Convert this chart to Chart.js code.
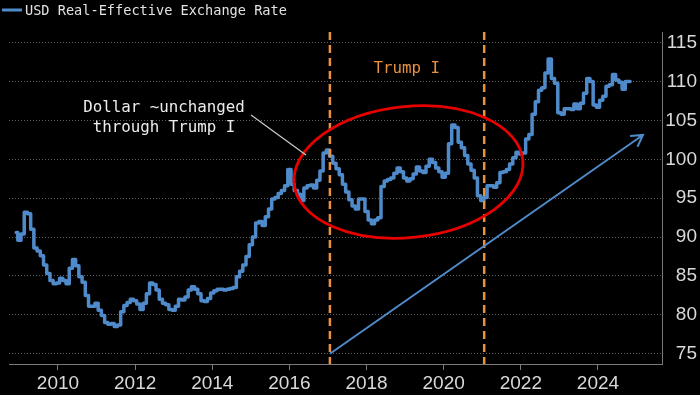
<!DOCTYPE html>
<html>
<head>
<meta charset="utf-8">
<script src="https://cdn.jsdelivr.net/npm/chart.js@4.4.1/dist/chart.umd.min.js"></script>
<style>
  html, body { margin: 0; padding: 0; background: #000; }
  #wrap { width: 700px; height: 395px; position: relative; }
  canvas { display: block; }
</style>
</head>
<body>
<div id="wrap"><canvas id="c" width="700" height="395"></canvas></div>
<script>
// ---------------- DATA ----------------
const seriesName = 'USD Real-Effective Exchange Rate';
const startYear = 2008;
const startMonth = 11; // first observation: Nov 2008 (month-end), monthly afterwards
const reer = [
  90.6, 89.6, 90.4, 93.2, 93.0, 91.0, 88.6, 88.2, 87.6, 86.4,
  85.3, 84.4, 84.0, 84.1, 84.7, 84.4, 84.0, 86.0, 87.1, 86.3,
  84.9, 84.2, 82.5, 81.1, 81.1, 81.5, 80.6, 79.9, 79.0, 78.8,
  78.9, 78.5, 78.7, 80.4, 81.2, 81.6, 82.0, 81.8, 81.4, 80.7,
  81.5, 82.7, 84.1, 83.9, 83.2, 82.0, 81.5, 81.3, 80.7, 80.6,
  81.1, 82.0, 81.9, 82.3, 83.2, 83.6, 83.3, 82.7, 81.8, 81.7,
  82.1, 82.8, 83.1, 83.3, 83.3, 83.2, 83.3, 83.4, 83.5, 84.9,
  85.6, 86.4, 87.5, 89.0, 90.0, 91.8, 92.0, 91.5, 92.6, 93.6,
  94.9, 95.1, 95.6, 96.0, 96.6, 98.7, 96.8, 96.0, 95.5, 94.7,
  96.3, 96.6, 96.7, 96.3, 97.3, 98.5, 100.8, 101.2, 100.4, 99.5,
  98.8, 98.0, 96.8, 95.8, 94.8, 94.0, 93.6, 94.9, 94.9, 93.3,
  92.2, 91.7, 92.2, 92.5, 96.5, 97.2, 97.4, 97.6, 98.2, 98.9,
  98.4, 97.6, 97.2, 97.5, 98.1, 99.0, 98.5, 98.3, 99.1, 100.0,
  99.6, 98.9, 98.4, 97.7, 98.2, 102.0, 104.4, 104.1, 102.2, 101.5,
  100.5, 99.4, 98.6, 97.6, 95.3, 94.7, 95.1, 96.6, 96.6, 96.4,
  97.0, 98.3, 98.4, 98.7, 99.4, 100.2, 100.9, 100.7, 100.8, 102.6,
  103.2, 105.8, 107.4, 108.9, 109.2, 111.1, 112.9, 110.4, 109.8, 106.0,
  105.8, 106.5, 106.5, 106.4, 107.1, 106.5, 107.2, 108.5, 110.4, 110.0,
  107.0, 106.7, 107.6, 108.1, 109.4, 109.6, 110.9, 110.2, 109.9, 109.0,
  110.0, 110.0
];
const xTickYears = [2010, 2012, 2014, 2016, 2018, 2020, 2022, 2024];
const yTickValues = [75, 80, 85, 90, 95, 100, 105, 110, 115];
const trumpTerm = [2017.05, 2021.05];
const annoLines = ['Dollar ~unchanged', 'through Trump I'];
const trumpLabel = 'Trump I';

// ---------------- STYLE / LAYOUT ----------------
const xMin = 2008.73, xMax = 2025.66;
const yMin = 73.675, yMax = 116.376;
const lineColor = '#4F8BCB';
const orange = '#E8913F';
const narrow = "'Liberation Sans Narrow', 'Liberation Sans', Arial, sans-serif";
const mono = "'DejaVu Sans Mono', 'Liberation Mono', monospace";

// annotation anchors in data coordinates
const anno = {
  textX: 2012.748, textY: [106.09, 103.51],
  connector: [[2015.004, 105.70], [2016.43, 100.56]],
  trumpX: 2019.04, trumpY: 111.10,
  ellipse: { cx: 2019.087, cy: 98.37, rx: 2.98, ry: 8.42, rot: -6 },
  arrow: [[2017.05, 75.0], [2025.167, 103.13]]
};

const bgPlugin = {
  id: 'bg',
  beforeDraw(chart) {
    const { ctx, width, height } = chart;
    ctx.save();
    ctx.fillStyle = '#000';
    ctx.fillRect(0, 0, width, height);
    ctx.restore();
  }
};

const overlay = {
  id: 'overlay',
  afterDatasetsDraw(chart) {
    const { ctx, chartArea: ca, scales: { x, y } } = chart;
    const px = v => x.getPixelForValue(v);
    const py = v => y.getPixelForValue(v);
    ctx.save();

    // Trump term dashed lines
    ctx.strokeStyle = orange;
    ctx.lineWidth = 2.5;
    ctx.setLineDash([8, 5]);
    trumpTerm.forEach(t => {
      ctx.beginPath();
      ctx.moveTo(px(t), ca.top);
      ctx.lineTo(px(t), ca.bottom);
      ctx.stroke();
    });
    ctx.setLineDash([]);

    // red ellipse
    const e = anno.ellipse;
    const ecx = px(e.cx), ecy = py(e.cy);
    const erx = Math.abs(px(e.cx + e.rx) - ecx);
    const ery = Math.abs(py(e.cy + e.ry) - ecy);
    ctx.strokeStyle = '#E60000';
    ctx.lineWidth = 2.8;
    ctx.beginPath();
    ctx.ellipse(ecx, ecy, erx, ery, e.rot * Math.PI / 180, 0, Math.PI * 2);
    ctx.stroke();

    // blue arrow
    const [a0, a1] = anno.arrow;
    const x0 = px(a0[0]), y0 = py(a0[1]), x1 = px(a1[0]), y1 = py(a1[1]);
    ctx.strokeStyle = lineColor;
    ctx.lineWidth = 2;
    ctx.beginPath();
    ctx.moveTo(x0, y0);
    ctx.lineTo(x1, y1);
    const ang = Math.atan2(y0 - y1, x0 - x1);
    const hl = 13, spread = Math.PI / 6;
    ctx.moveTo(x1 + hl * Math.cos(ang + spread), y1 + hl * Math.sin(ang + spread));
    ctx.lineTo(x1, y1);
    ctx.lineTo(x1 + hl * Math.cos(ang - spread), y1 + hl * Math.sin(ang - spread));
    ctx.stroke();

    // connector line
    const [c0, c1] = anno.connector;
    ctx.strokeStyle = '#c8c8c8';
    ctx.lineWidth = 1.3;
    ctx.beginPath();
    ctx.moveTo(px(c0[0]), py(c0[1]));
    ctx.lineTo(px(c1[0]), py(c1[1]));
    ctx.stroke();

    // texts
    ctx.font = '15.8px ' + mono;
    ctx.textAlign = 'center';
    ctx.textBaseline = 'alphabetic';
    ctx.fillStyle = '#ececec';
    annoLines.forEach((t, i) => ctx.fillText(t, px(anno.textX), py(anno.textY[i])));
    ctx.fillStyle = orange;
    ctx.fillText(trumpLabel, px(anno.trumpX), py(anno.trumpY));

    ctx.restore();
  }
};

const legendPlugin = {
  id: 'legendLine',
  afterDraw(chart) {
    const { ctx } = chart;
    ctx.save();
    ctx.strokeStyle = lineColor;
    ctx.lineWidth = 3;
    ctx.beginPath();
    ctx.moveTo(2, 10);
    ctx.lineTo(22, 10);
    ctx.stroke();
    ctx.font = '13.6px ' + mono;
    ctx.fillStyle = '#e2e2e2';
    ctx.textAlign = 'left';
    ctx.textBaseline = 'alphabetic';
    ctx.fillText(chart.data.datasets[0].label, 25, 15);
    ctx.restore();
  }
};

new Chart(document.getElementById('c'), {
  type: 'line',
  data: {
    datasets: [{
      label: seriesName,
      data: reer.map((v, i) => ({ x: startYear + (startMonth + i) / 12, y: v })),
      borderColor: lineColor,
      borderWidth: 3.5,
      borderJoinStyle: 'round',
      borderCapStyle: 'round',
      pointRadius: 0,
      stepped: 'middle',
      fill: false
    }]
  },
  options: {
    responsive: false,
    animation: false,
    devicePixelRatio: 1,
    layout: { padding: { left: 9, right: 3, top: 32, bottom: 0 } },
    plugins: { legend: { display: false }, tooltip: { enabled: false } },
    scales: {
      x: {
        type: 'linear', position: 'bottom', min: xMin, max: xMax,
        afterBuildTicks: s => { s.ticks = xTickYears.map(v => ({ value: v })); },
        afterFit: s => { s.height = 31; },
        grid: { display: true, drawOnChartArea: false, drawTicks: true, tickLength: 6, color: '#7a7a7a', lineWidth: 1 },
        border: { display: true, color: '#7a7a7a', width: 1 },
        ticks: { color: '#d9d9d9', font: { family: narrow, size: 19 }, padding: 2, maxRotation: 0, autoSkip: false, callback: v => String(v) }
      },
      y: {
        type: 'linear', position: 'right', min: yMin, max: yMax,
        afterBuildTicks: s => { s.ticks = yTickValues.map(v => ({ value: v })); },
        afterFit: s => { s.width = 35; },
        grid: { color: '#5e5e5e', lineWidth: 1, drawTicks: false },
        border: { display: true, color: '#7a7a7a', width: 1, dash: [1, 2] },
        ticks: { color: '#d9d9d9', font: { family: narrow, size: 19 }, crossAlign: 'far', padding: 0, callback: v => String(v) }
      }
    }
  },
  plugins: [bgPlugin, overlay, legendPlugin]
});
</script>
</body>
</html>
